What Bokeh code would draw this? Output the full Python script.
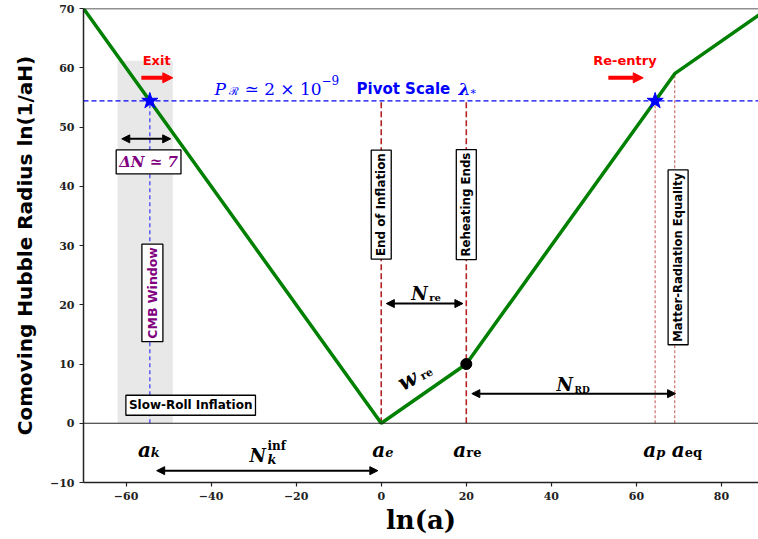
from math import radians

from bokeh.plotting import figure
from bokeh.models import (Label, Arrow, NormalHead, Span, BoxAnnotation,
                          Range1d, FixedTicker)
from bokeh.embed import file_html
from bokeh.resources import INLINE

# ---- data -------------------------------------------------------------
# piecewise evolution of the comoving Hubble radius vs ln(a)
ln_a = [-70, 0, 20, 69, 90]
ln_inv_aH = [70, 0, 10, 59, 69.5]

pivot_level = 54.4          # ln(1/aH) of the pivot scale
ln_a_k = -54.4              # horizon exit of the pivot mode
ln_a_e = 0                  # end of inflation
ln_a_re = 20                # end of reheating
ln_a_p = 64.4               # re-entry of the pivot mode
ln_a_eq = 69                # matter-radiation equality
reheat_end_level = 10
eq_level = 59
cmb_window = [-62, -49]
cmb_window_top = 61.2

x_ticks = [-60, -40, -20, 0, 20, 40, 60, 80]
y_ticks = [-10, 0, 10, 20, 30, 40, 50, 60, 70]

# ---- figure -----------------------------------------------------------
p = figure(width=758, height=539, output_backend="svg", toolbar_location=None,
           x_range=Range1d(-70, 88.7), y_range=Range1d(-10, 70),
           min_border_left=83, min_border_right=0, min_border_top=8,
           min_border_bottom=57)
p.outline_line_color = None
p.grid.visible = False
p.background_fill_color = "white"
p.border_fill_color = "white"

for ax, ticks in ((p.xaxis, x_ticks), (p.yaxis, y_ticks)):
    ax.ticker = FixedTicker(ticks=ticks)
    ax.major_label_overrides = {t: (f"\u2212{abs(t)}" if t < 0 else str(t)) for t in ticks}
    ax.major_label_text_font = "DejaVu Serif"
    ax.major_label_text_font_style = "bold"
    ax.major_label_text_font_size = "11px"
    ax.major_label_text_color = "#222222"
    ax.major_tick_out = 4
    ax.major_tick_in = 0
    ax.minor_tick_line_color = None
    ax.axis_line_width = 1.5
    ax.axis_line_color = "#222222"
    ax.major_tick_line_width = 1.2
    ax.major_tick_line_color = "#222222"

p.xaxis.axis_label = "ln(a)"
p.xaxis.axis_label_text_font = "DejaVu Serif"
p.xaxis.axis_label_text_font_style = "bold"
p.xaxis.axis_label_text_font_size = "26px"
p.xaxis.axis_label_text_color = "black"
p.xaxis.axis_label_standoff = 2

p.yaxis.axis_label = "Comoving Hubble Radius ln(1/aH)"
p.yaxis.axis_label_text_font = "DejaVu Sans"
p.yaxis.axis_label_text_font_style = "bold"
p.yaxis.axis_label_text_font_size = "20px"
p.yaxis.axis_label_text_color = "black"
p.yaxis.axis_label_standoff = 10

# top spine and the zero line
p.add_layout(Span(location=70, dimension="width", line_color="#222222", line_width=1.5))
p.add_layout(Span(location=0, dimension="width", line_color="#222222", line_width=1.2))

# CMB window band
p.add_layout(BoxAnnotation(left=cmb_window[0], right=cmb_window[1], bottom=0,
                           top=cmb_window_top, fill_color="#d9d9d9", fill_alpha=0.6,
                           line_color=None, level="underlay"))

# pivot scale level
p.add_layout(Span(location=pivot_level, dimension="width", line_color="blue",
                  line_width=1.2, line_dash="5 3"))

# vertical markers
p.segment(x0=[ln_a_e, ln_a_re], y0=[0, 0], x1=[ln_a_e, ln_a_re],
          y1=[pivot_level, pivot_level], line_color="#b22222", line_width=1.6,
          line_dash="6 3")
p.segment(x0=[ln_a_p, ln_a_eq], y0=[0, 0], x1=[ln_a_p, ln_a_eq],
          y1=[pivot_level, eq_level], line_color="#b22222", line_alpha=0.6,
          line_width=1.3, line_dash="3 2")
p.segment(x0=[ln_a_k], y0=[0], x1=[ln_a_k], y1=[pivot_level], line_color="blue",
          line_alpha=0.7, line_width=1.3, line_dash="4 3")

# comoving Hubble radius
p.line(ln_a, ln_inv_aH, line_color="green", line_width=3.5)
p.scatter([ln_a_k, ln_a_p], [pivot_level, pivot_level], marker="star", size=17,
          fill_color="blue", line_color="blue")
p.scatter([ln_a_re], [reheat_end_level], marker="circle", size=11,
          fill_color="black", line_color="black")


def lbl(x, y, text, size, color="black", font="DejaVu Sans", style="bold",
        align="left", baseline="alphabetic", dx=0, dy=0, angle=0, **kw):
    p.add_layout(Label(x=x, y=y, text=text, x_offset=dx, y_offset=dy,
                       text_font_size=f"{size}px", text_color=color, text_font=font,
                       text_font_style=style, text_align=align,
                       text_baseline=baseline, angle=angle, **kw))


def boxed(x, y, text, size, color="black", angle=0, font="DejaVu Sans",
          style="bold"):
    lbl(x, y, text, size, color=color, font=font, style=style, align="center",
        baseline="middle", angle=angle, background_fill_color="white",
        border_line_color="black", border_line_width=1.3, padding=3)


def arrow(x0, x1, y, color="black", width=2, size=8):
    p.add_layout(Arrow(x_start=x0, x_end=x1, y_start=y, y_end=y,
                       line_color=color, line_width=width,
                       start=NormalHead(size=size, fill_color=color, line_color=color),
                       end=NormalHead(size=size, fill_color=color, line_color=color)))


def single_arrow(x0, x1, y, color, width=4, size=10):
    p.add_layout(Arrow(x_start=x0, x_end=x1, y_start=y, y_end=y,
                       line_color=color, line_width=width,
                       end=NormalHead(size=size, fill_color=color, line_color=color)))


# exit / re-entry
lbl(-52.8, 61.2, "Exit", 13, color="red", align="center")
lbl(57.3, 61.2, "Re-entry", 13, color="red", align="center")
single_arrow(-56.4, -49.0, 58.3, "red")
single_arrow(53.4, 61.6, 58.3, "red")

# pivot scale caption
PX, PY = -39.2, 56.44
lbl(PX, PY, "P", 17, color="blue", font="DejaVu Serif", style="italic")
lbl(PX, PY, "\u211b", 11, color="blue", font="DejaVu Serif", style="normal", dx=14, dy=-3)
lbl(PX, PY, "\u2243 2 \u00d7 10", 17, color="blue", font="DejaVu Serif", style="normal", dx=30)
lbl(PX, PY, "\u22129", 12, color="blue", font="DejaVu Serif", style="normal", dx=107, dy=9)
lbl(PX, PY, "Pivot Scale", 15, color="blue", dx=142)
lbl(PX, PY, "\u03bb", 17, color="blue", font="DejaVu Serif", style="bold italic", dx=244)
lbl(PX, PY, "\u2217", 11, color="blue", font="DejaVu Serif", style="normal", dx=255, dy=-3)

# CMB window details
arrow(-61.0, -49.5, 48)
boxed(-54.7, 44.1, "\u0394N \u2243 7", 15, color="purple", font="DejaVu Serif",
      style="bold italic")
boxed(-53.8, 22.0, "CMB Window", 12.5, color="purple", angle=radians(90))
boxed(-44.8, 3.04, "Slow-Roll Inflation", 12)

# event labels
boxed(0.0, 36.9, "End of Inflation", 11.9, angle=radians(90))
boxed(20.0, 36.9, "Reheating Ends", 11.8, angle=radians(90))
boxed(69.8, 28.0, "Matter-Radiation Equality", 11.6, angle=radians(90))

# e-fold intervals
arrow(1.2, 19.2, 20.2)
lbl(7.04, 21.97, "N", 18, font="DejaVu Serif", style="bold italic")
lbl(7.04, 21.97, "re", 10, font="DejaVu Serif", style="bold", dx=18, dy=-4)

arrow(21.3, 69.2, 5.0)
lbl(41.2, 6.5, "N", 18, font="DejaVu Serif", style="bold italic")
lbl(41.2, 6.5, "RD", 9, font="DejaVu Serif", style="bold", dx=18, dy=-5)

arrow(-52.8, -0.8, -8.0)
lbl(-31.0, -5.4, "N", 18, font="DejaVu Serif", style="bold italic")
lbl(-31.0, -5.4, "inf", 12, font="DejaVu Serif", style="bold", dx=18, dy=9)
lbl(-31.0, -5.4, "k", 13, font="DejaVu Serif", style="bold italic", dx=18, dy=-4)

# equation of state during reheating
lbl(4.2, 6.6, "w", 22, font="DejaVu Serif", style="bold italic", angle=radians(28))
lbl(4.2, 6.6, "re", 11, font="DejaVu Serif", style="bold", angle=radians(28), dx=22, dy=7)

# scale-factor markers below the zero line
A_Y = -4.55
for xpos, sub, split, sub_style in ((ln_a_k, "k", 0, "bold italic"),
                                    (ln_a_e, "e", 3, "bold italic"),
                                    (ln_a_re, "re", -1, "bold"),
                                    (ln_a_p, "p", 0, "bold italic"),
                                    (ln_a_eq, "eq", 9, "bold")):
    lbl(xpos, A_Y, "a", 20, font="DejaVu Serif", style="bold italic",
        align="right", dx=split + 1)
    lbl(xpos, A_Y, sub, 13, font="DejaVu Serif", style=sub_style,
        dx=split + 1, dy=-2)

open("out.html", "w").write(file_html(p, INLINE))
